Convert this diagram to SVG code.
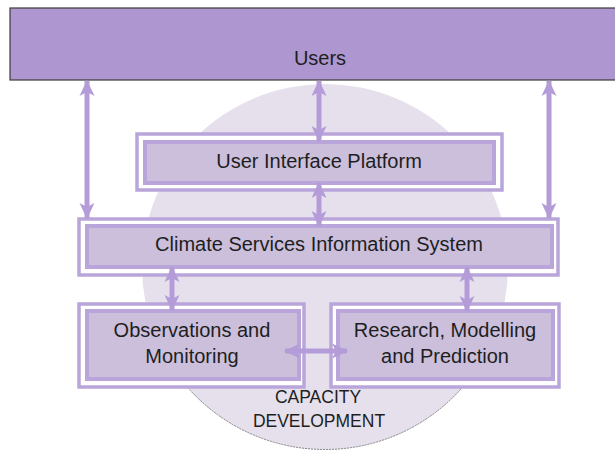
<svg xmlns="http://www.w3.org/2000/svg" width="615" height="453" viewBox="0 0 615 453">
<style>
.outer{fill:#ffffff;stroke:#B9A5DA;stroke-width:3.5}
.inner{fill:#CBBFDC;stroke:#B9A5DA;stroke-width:4}
.lbl{font-family:"Liberation Sans",Arial,sans-serif;font-size:20px;fill:#1e1e1e;text-anchor:middle;dominant-baseline:central}
.cap{font-family:"Liberation Sans",Arial,sans-serif;font-size:17.5px;fill:#1e1e1e;text-anchor:middle;dominant-baseline:central}
.arr{stroke:#B49CD8;stroke-width:5;fill:none;marker-start:url(#ah);marker-end:url(#ah)}
</style>
<defs>
<marker id="ah" viewBox="0 0 16 16" refX="15" refY="8" markerWidth="16" markerHeight="16" markerUnits="userSpaceOnUse" orient="auto-start-reverse">
<path d="M0,0.5 L16,8 L0,15.5 L4,8 Z" fill="#B49CD8"/>
</marker>
</defs>
<rect width="615" height="453" fill="#ffffff"/>
<g id="capacity-development">
<circle cx="325" cy="267" r="183" fill="#E5E0EC"/>
<path d="M150,320 A183,183 0 0 0 500,320" fill="none" stroke="#8a8a8a" stroke-width="1" stroke-dasharray="2,1"/>
<text class="cap" x="318" y="397">CAPACITY</text>
<text class="cap" x="319" y="421">DEVELOPMENT</text>
</g>
<g id="users">
<rect x="10" y="8" width="610" height="72" fill="#AE97D0" stroke="#3a3a3a" stroke-width="1.2"/>
<text class="lbl" x="320" y="58">Users</text>
</g>
<g id="user-interface-platform">
<rect class="outer" x="137" y="134" width="365" height="56"/>
<rect class="inner" x="145" y="142" width="349" height="41"/>
<text class="lbl" x="319" y="161">User Interface Platform</text>
</g>
<g id="climate-services-information-system">
<rect class="outer" x="79" y="219" width="479" height="56"/>
<rect class="inner" x="87" y="226" width="465" height="41"/>
<text class="lbl" x="319" y="244">Climate Services Information System</text>
</g>
<g id="observations-monitoring">
<rect class="outer" x="79" y="304" width="225" height="83"/>
<rect class="inner" x="87" y="311" width="212" height="68"/>
<text class="lbl" x="192" y="330">Observations and</text>
<text class="lbl" x="192" y="356">Monitoring</text>
</g>
<g id="research-modelling-prediction">
<rect class="outer" x="331" y="304" width="228" height="83"/>
<rect class="inner" x="338" y="311" width="215" height="68"/>
<text class="lbl" x="445" y="330">Research, Modelling</text>
<text class="lbl" x="445" y="356">and Prediction</text>
</g>
<g id="connectors">
<line class="arr" x1="87" y1="81" x2="87" y2="218"/>
<line class="arr" x1="319" y1="81" x2="319" y2="141"/>
<line class="arr" x1="549" y1="81" x2="549" y2="218"/>
<line class="arr" x1="319" y1="183" x2="319" y2="226"/>
<line class="arr" x1="172" y1="267" x2="172" y2="310"/>
<line class="arr" x1="467" y1="267" x2="467" y2="311"/>
<line class="arr" x1="285" y1="351" x2="347" y2="351"/>
</g>
</svg>
